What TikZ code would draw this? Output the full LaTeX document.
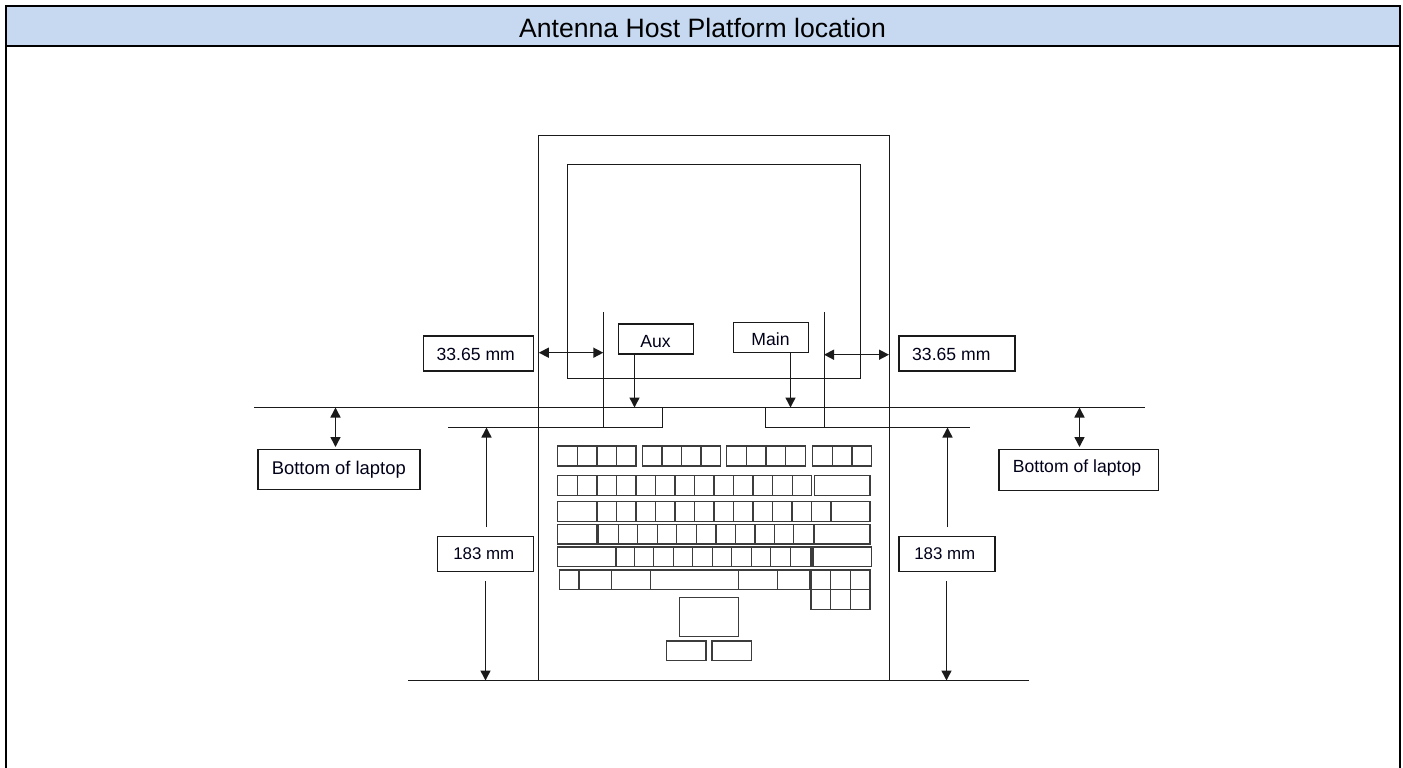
\documentclass[tikz,border=0pt]{standalone}
\usepackage{fontspec}
\setmainfont{Liberation Sans}
\usetikzlibrary{arrows.meta}
\definecolor{hdr}{HTML}{C6D9F1}
\definecolor{ink}{HTML}{1A1A1A}
\tikzset{
  frameline/.style={draw=black,line width=2pt},
  ln/.style={draw=ink,line width=1.5pt},
  keyln/.style={draw=ink!85,line width=1.5pt},
  arr/.style={ln,-{Triangle[length=10pt,width=10pt]}},
  dbl/.style={ln,{Triangle[length=10pt,width=10pt]}-{Triangle[length=10pt,width=10pt]}},
  lab/.style={draw=ink,line width=1.4pt,fill=white,inner sep=0pt,text=black!90!blue},
  fa/.style={font=\fontsize{17.6}{20}\selectfont},
  fb/.style={font=\fontsize{18.4}{21}\selectfont},
  fc/.style={font=\fontsize{16.9}{20}\selectfont},
}
% text placed with its centre dx right of and its baseline dy above the node's centre
\newcommand{\tx}[3]{\smash{\makebox[0pt]{\kern#1pt\raisebox{#2pt}{#3}\kern-#1pt}}}
\newcommand{\keyrow}[3]{% y0,y1,list of x
  \foreach \kx [remember=\kx as \kp (initially -1)] in {#3}{
    \ifdim\kp pt>0pt \draw[keyln] (\kp,#1) rectangle (\kx,#2);\fi
  }}
\begin{document}
\begin{tikzpicture}[x=1pt,y=-1pt]
\useasboundingbox (0,0) rectangle (1403,768);
\fill[white] (0,0) rectangle (1403,768);
% header and frame
\fill[hdr] (6,6) rectangle (1400,46);
\draw[frameline] (6,768) -- (6,6) -- (1400,6) -- (1400,768);
\draw[frameline] (6,46) -- (1400,46);
\node[font=\fontsize{26.6}{30}\selectfont,text=black] (title) at (702.5,27.5) {Antenna Host Platform location};
% laptop
\draw[ln] (538.5,135.5) rectangle (889.5,680.5);
\draw[ln] (567.5,164.5) rectangle (860.5,378.5);
% horizontal datum lines
\coordinate (topL) at (254,407.5);
\coordinate (topR) at (1145,407.5);
\coordinate (lowL) at (448,427.5);
\coordinate (lowR) at (970,427.5);
\coordinate (botL) at (408,680.5);
\coordinate (botR) at (1029,680.5);
\coordinate (auxV) at (603.5,312);
\coordinate (mainV) at (824.5,312);
\coordinate (auxE) at (662.5,427.5);
\coordinate (mainE) at (765.5,427.5);
\draw[ln] (topL) -- (topR);
\draw[ln] (botL) -- (botR);
\draw[ln] (lowL) -- (auxE) -- (auxE |- topL);
\draw[ln] (lowR) -- (mainE) -- (mainE |- topL);
\draw[ln] (auxV) -- (auxV |- lowL);
\draw[ln] (mainV) -- (mainV |- lowL);
% labels
\node[lab,fa,minimum width=75pt,minimum height=30pt] (aux) at (656,339) {\tx{-0.5}{-8.3}{Aux}};
\node[lab,fa,minimum width=75pt,minimum height=30pt] (main) at (771,337.5) {\tx{-0.5}{-8.2}{Main}};
\node[lab,fa,minimum width=110pt,minimum height=35pt] (dimL) at (478.5,353.5) {\tx{-2.7}{-6.5}{33.65 mm}};
\node[lab,fa,minimum width=116pt,minimum height=35pt] (dimR) at (957,353.5) {\tx{-5.7}{-6.5}{33.65 mm}};
\node[lab,fb,minimum width=162pt,minimum height=40pt] (botlabL) at (339,469.7) {\tx{-0.2}{-4.3}{Bottom of laptop}};
\node[lab,fa,minimum width=159.5pt,minimum height=41pt] (botlabR) at (1078.7,469.7) {\tx{-1.7}{-3}{Bottom of laptop}};
\node[lab,fc,minimum width=96pt,minimum height=35pt] (hL) at (485.7,554.2) {\tx{-1.9}{-4.8}{183 mm}};
\node[lab,fc,minimum width=96pt,minimum height=35pt] (hR) at (946.8,554.2) {\tx{-2}{-5.5}{183 mm}};
% arrows
\coordinate (auxTip) at (634.5,407.5);
\coordinate (mainTip) at (790.5,407.5);
\draw[arr] (aux.south -| auxTip) -- (auxTip);
\draw[arr] (main.south -| mainTip) -- (mainTip);
\coordinate (dimA) at (538.8,352.7);
\coordinate (dimB) at (603.3,352.7);
\coordinate (dimC) at (824,354.7);
\coordinate (dimD) at (889,354.7);
\draw[dbl] (dimA) -- (dimB);
\draw[dbl] (dimC) -- (dimD);
\coordinate (bA) at (335.5,407.5);
\coordinate (bB) at (335.5,447);
\coordinate (bC) at (1079.5,407.5);
\coordinate (bD) at (1079.5,447);
\draw[dbl] (bA) -- (bB);
\draw[dbl] (bC) -- (bD);
\coordinate (hA) at (486.5,427.5);
\coordinate (hB) at (486.5,527);
\coordinate (hC) at (485.5,581);
\coordinate (hD) at (485.5,680.5);
\draw[arr] (hB) -- (hA);
\draw[arr] (hC) -- (hD);
\coordinate (hE) at (947.5,427.5);
\coordinate (hF) at (947.5,527);
\coordinate (hG) at (946.5,581);
\coordinate (hH) at (946.5,680.5);
\draw[arr] (hF) -- (hE);
\draw[arr] (hG) -- (hH);
% keyboard
\keyrow{446}{466}{557.7,577.3,597,616.7,636}
\keyrow{446}{466}{642.3,662,681.3,701,720.3}
\keyrow{446}{466}{726.7,746.3,766,785.7,805.3}
\keyrow{446}{466}{812.7,832.3,852,871.7}
\keyrow{475.7}{495.3}{557.7,577.3,597,616.7,636,655.7,675,694.7,714,733.7,753,772.7,792.3,811.7}
\keyrow{475.7}{495.3}{814.7,870}
\keyrow{501.7}{521.3}{557.7,597,616.7,636,655.7,675,694.7,714,733.7,753,772.7,792,811.7,831,870}
\keyrow{524.7}{544}{557.7,597}
\keyrow{524.7}{544}{598.7,618.3,637.7,657.3,676.7,696.3,716,735.3,755,774.3,793.7,813.3}
\keyrow{524.7}{544}{814.7,870}
\keyrow{547}{566.7}{557.7,616,634.3,653.7,673.3,692.7,712.3,731.7,751.3,770.7,790.3,811}
\keyrow{547}{566.7}{813,871.7}
\keyrow{570}{589.7}{559.3,579,611.3,650.3,738.3,777.7,809.3}
\keyrow{570}{589.7}{811,830.7,850.3,870}
\keyrow{589.7}{609.3}{811,830.7,850.3,870}
\draw[keyln] (679.7,597.3) rectangle (738.7,636.7);
\draw[keyln] (666.3,641) rectangle (706,660.7);
\draw[keyln] (712,641) rectangle (751.7,660.7);
\end{tikzpicture}
\end{document}
